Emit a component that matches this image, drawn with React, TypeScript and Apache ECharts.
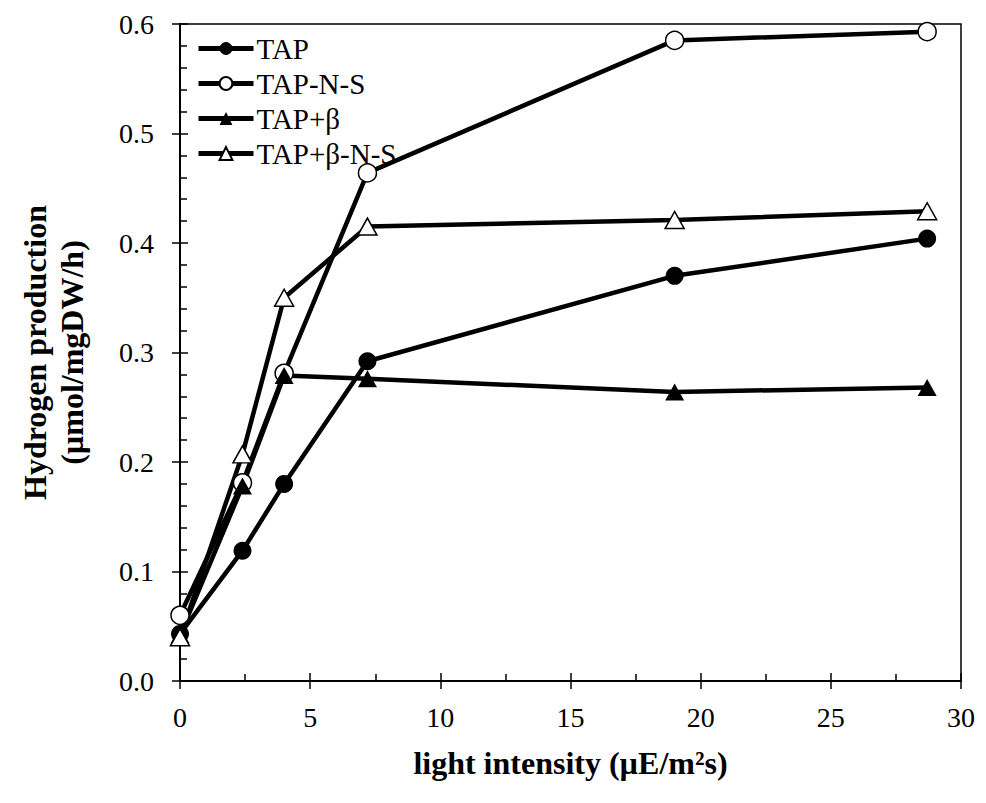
import React, { useEffect, useRef } from "react";
import * as echarts from "echarts";

const xValues = [0, 2.4, 4, 7.2, 19, 28.7];
const tap = [0.043, 0.119, 0.18, 0.292, 0.37, 0.404];
const tapNS = [0.06, 0.181, 0.281, 0.464, 0.585, 0.593];
const tapBeta = [0.042, 0.178, 0.279, 0.276, 0.264, 0.268];
const tapBetaNS = [0.04, 0.207, 0.35, 0.415, 0.421, 0.429];
const seriesNames = ["TAP", "TAP-N-S", "TAP+β", "TAP+β-N-S"];

const FONT = "'Liberation Serif', 'Times New Roman', serif";

export default function App() {
  const ref = useRef<HTMLDivElement>(null);
  useEffect(() => {
    if (!ref.current) return;
    const chart = echarts.init(ref.current, null, { renderer: "svg" });
    const pts = (ys: number[]) => xValues.map((x, i) => [x, ys[i]]);
    const mk = (name: string, ys: number[], symbol: string, filled: boolean) => ({
      name,
      type: "line",
      data: pts(ys),
      symbol,
      symbolSize: symbol === "circle" ? 18 : [19, 17],
      showSymbol: true,
      lineStyle: { color: "#000", width: 4.5 },
      itemStyle: {
        color: filled ? "#000" : "#fff",
        borderColor: "#000",
        borderWidth: filled ? 0 : 1.5,
      },
      z: 3,
    });
    const commonAxis = {
      axisLine: { show: true, lineStyle: { color: "#000", width: 2 } },
      splitLine: { show: false },
    };
    chart.setOption({
      animation: false,
      backgroundColor: "#fff",
      textStyle: { fontFamily: FONT, color: "#000" },
      grid: {
        left: 167,
        right: 12,
        top: 16,
        bottom: 114,
        show: true,
        borderColor: "#000",
        borderWidth: 1.5,
        backgroundColor: "transparent",
      },
      legend: {
        orient: "vertical",
        left: 183,
        top: 21,
        itemWidth: 55,
        itemHeight: 16,
        itemGap: 6,
        data: seriesNames,
        lineStyle: { width: 5, color: "#000" },
        textStyle: { fontFamily: FONT, fontSize: 29, lineHeight: 28, color: "#000", padding: [0, 0, 0, -2] },
      },
      xAxis: [
        {
          type: "value",
          min: 0,
          max: 30,
          interval: 5,
          ...commonAxis,
          axisTick: { show: true, inside: true, length: 8, lineStyle: { color: "#000", width: 1.5 } },
          minorTick: { show: true, splitNumber: 2, length: 7, lineStyle: { color: "#000", width: 1.5 } },
          axisLabel: { fontFamily: FONT, fontSize: 28, color: "#000", margin: 22 },
          name: "light intensity (µE/m²s)",
          nameLocation: "middle",
          nameGap: 66,
          nameTextStyle: { fontFamily: FONT, fontSize: 32, fontWeight: "bold", color: "#000" },
        },
        {
          type: "value",
          position: "bottom",
          min: 0,
          max: 30,
          interval: 5,
          ...commonAxis,
          axisTick: { show: true, inside: false, length: 8, lineStyle: { color: "#000", width: 1.5 } },
          axisLabel: { show: false },
        },
      ],
      yAxis: [
        {
          type: "value",
          min: 0,
          max: 0.6,
          interval: 0.1,
          ...commonAxis,
          axisTick: { show: true, inside: true, length: 8, lineStyle: { color: "#000", width: 1.5 } },
          minorTick: { show: true, splitNumber: 5, length: 7, lineStyle: { color: "#000", width: 1.5 } },
          axisLabel: {
            fontFamily: FONT,
            fontSize: 28,
            color: "#000",
            margin: 26,
            formatter: (v: number) => v.toFixed(1),
          },
          name: "Hydrogen production\n(µmol/mgDW/h)",
          nameLocation: "middle",
          nameGap: 90,
          nameTextStyle: { fontFamily: FONT, fontSize: 32, fontWeight: "bold", color: "#000", lineHeight: 37 },
        },
        {
          type: "value",
          position: "left",
          min: 0,
          max: 0.6,
          interval: 0.1,
          ...commonAxis,
          axisTick: { show: true, inside: false, length: 8, lineStyle: { color: "#000", width: 1.5 } },
          axisLabel: { show: false },
        },
      ],
      series: [
        mk("TAP", tap, "circle", true),
        mk("TAP-N-S", tapNS, "circle", false),
        mk("TAP+β", tapBeta, "triangle", true),
        mk("TAP+β-N-S", tapBetaNS, "triangle", false),
      ],
    });
    return () => chart.dispose();
  }, []);
  return <div ref={ref} style={{ width: 970, height: 787 }} />;
}
